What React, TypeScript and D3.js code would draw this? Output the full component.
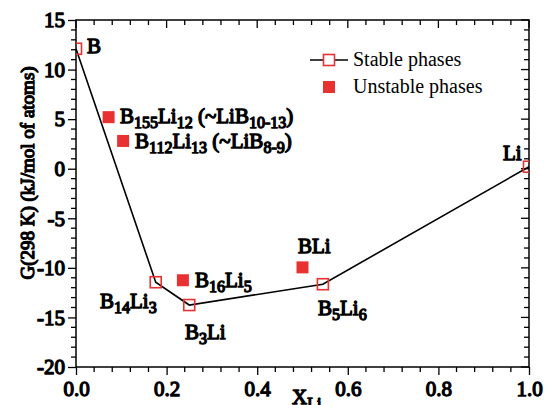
import * as d3 from "d3";
import { useEffect, useRef } from "react";

// stable phases (convex hull), x = X_Li, y = G in kJ/mol of atoms
const stableNames = ["B", "B14Li3", "B3Li", "B5Li6", "Li"];
const stableX = [0, 0.176, 0.25, 0.545, 1.0];
const stableY = [12.1, -11.45, -13.75, -11.65, 0.2];

// unstable phases
const unstableNames = ["B155Li12", "B112Li13", "B16Li5", "BLi"];
const unstableX = [0.072, 0.104, 0.236, 0.5];
const unstableY = [5.2, 2.8, -11.25, -9.95];

const xTicks = [0, 0.2, 0.4, 0.6, 0.8, 1.0];
const yTicks = [15, 10, 5, 0, -5, -10, -15, -20];

// label pieces: [text, isSubscript]
type Piece = [string, boolean];
const labels: { parts: Piece[]; x: number; y: number }[] = [
  { parts: [["B", false]], x: 87, y: 53 },
  {
    parts: [["B", false], ["155", true], ["Li", false], ["12", true], [" (~LiB", false], ["10-13", true], [")", false]],
    x: 120,
    y: 123,
  },
  {
    parts: [["B", false], ["112", true], ["Li", false], ["13", true], ["  (~LiB", false], ["8-9", true], [")", false]],
    x: 135,
    y: 148,
  },
  { parts: [["B", false], ["14", true], ["Li", false], ["3", true]], x: 100, y: 308 },
  { parts: [["B", false], ["3", true], ["Li", false]], x: 185, y: 339 },
  { parts: [["B", false], ["16", true], ["Li", false], ["5", true]], x: 195, y: 287 },
  { parts: [["BLi", false]], x: 298, y: 253 },
  { parts: [["B", false], ["5", true], ["Li", false], ["6", true]], x: 318, y: 315 },
  { parts: [["Li", false]], x: 503, y: 160 },
];

const W = 549;
const H = 405;
const M = { left: 76, right: 20, top: 20, bottom: 38 };
const RED = "#e83232";
const FONT = "'Liberation Serif', 'Times New Roman', serif";

// the bold serif face is not always there, so thicken the regular one
const boldify = (sel: any) =>
  sel
    .attr("font-family", FONT)
    .attr("font-weight", "normal")
    .attr("fill", "#000")
    .attr("stroke", "#000")
    .attr("stroke-width", 1.3)
    .attr("stroke-linejoin", "round")
    .attr("paint-order", "stroke");

const App = () => {
  const svgRef = useRef(null);

  const drawChart = () => {
    d3.select(svgRef.current).selectAll("*").remove();
    const svg = d3.select(svgRef.current).attr("width", W).attr("height", H);

    const x = d3.scaleLinear().domain([0, 1]).range([M.left, W - M.right]);
    const y = d3.scaleLinear().domain([-20, 15]).range([H - M.bottom, M.top]);

    svg
      .append("defs")
      .append("clipPath")
      .attr("id", "plotclip")
      .append("rect")
      .attr("x", M.left)
      .attr("y", M.top)
      .attr("width", W - M.left - M.right)
      .attr("height", H - M.top - M.bottom);

    const minorX = d3.range(0, 1.0001, 0.04).filter((v) => Math.abs((v * 5) - Math.round(v * 5)) > 1e-6);
    const minorY = d3.range(-20, 15.0001, 1).filter((v) => v % 5 !== 0);

    // bottom axis (ticks outward)
    const bottom = svg.append("g").attr("transform", `translate(0, ${y(-20)})`);
    bottom
      .call(d3.axisBottom(x).tickValues(xTicks).tickFormat((d: any) => d.toFixed(1)).tickSize(8).tickPadding(6))
      .call((g) => g.select(".domain").remove());
    bottom
      .selectAll("line.minor")
      .data(minorX)
      .enter()
      .append("line")
      .attr("x1", (d) => x(d))
      .attr("x2", (d) => x(d))
      .attr("y1", 0)
      .attr("y2", 5)
      .attr("stroke", "#000")
      .attr("stroke-width", 1.3);

    // left axis (ticks outward), plain hyphen for minus like the original
    const left = svg.append("g").attr("transform", `translate(${x(0)}, 0)`);
    left
      .call(d3.axisLeft(y).tickValues(yTicks).tickFormat((d: any) => String(d)).tickSize(8).tickPadding(3))
      .call((g) => g.select(".domain").remove());
    left
      .selectAll("line.minor")
      .data(minorY)
      .enter()
      .append("line")
      .attr("x1", 0)
      .attr("x2", -5)
      .attr("y1", (d) => y(d))
      .attr("y2", (d) => y(d))
      .attr("stroke", "#000")
      .attr("stroke-width", 1.3);

    // top & right mirror ticks (inward)
    const top = svg.append("g").attr("transform", `translate(0, ${y(15)})`);
    top
      .selectAll("line")
      .data([...xTicks, ...minorX])
      .enter()
      .append("line")
      .attr("x1", (d) => x(d))
      .attr("x2", (d) => x(d))
      .attr("y1", 0)
      .attr("y2", (d) => (xTicks.includes(d) ? 8 : 5))
      .attr("stroke", "#000")
      .attr("stroke-width", 1.3);
    const right = svg.append("g").attr("transform", `translate(${x(1)}, 0)`);
    right
      .selectAll("line")
      .data([...yTicks, ...minorY])
      .enter()
      .append("line")
      .attr("x1", 0)
      .attr("x2", (d) => (yTicks.includes(d) ? -8 : -5))
      .attr("y1", (d) => y(d))
      .attr("y2", (d) => y(d))
      .attr("stroke", "#000")
      .attr("stroke-width", 1.3);

    svg.selectAll(".tick line").attr("stroke-width", 1.3);
    svg
      .selectAll(".tick text")
      .attr("font-size", 21)
      .call(boldify);

    // frame
    svg
      .append("rect")
      .attr("x", x(0))
      .attr("y", y(15))
      .attr("width", x(1) - x(0))
      .attr("height", y(-20) - y(15))
      .attr("fill", "none")
      .attr("stroke", "#000")
      .attr("stroke-width", 1.5);

    const plot = svg.append("g").attr("clip-path", "url(#plotclip)");

    const stable = stableX.map((v, i) => ({ x: v, y: stableY[i], name: stableNames[i] }));
    const unstable = unstableX.map((v, i) => ({ x: v, y: unstableY[i], name: unstableNames[i] }));

    const line = d3
      .line<{ x: number; y: number }>()
      .x((d) => x(d.x))
      .y((d) => y(d.y));
    plot
      .append("path")
      .datum(stable)
      .attr("d", line)
      .attr("fill", "none")
      .attr("stroke", "#000")
      .attr("stroke-width", 1.6);

    const s = 11;
    plot
      .selectAll(".stable")
      .data(stable)
      .enter()
      .append("rect")
      .attr("x", (d) => x(d.x) - s / 2)
      .attr("y", (d) => y(d.y) - s / 2)
      .attr("width", s)
      .attr("height", s)
      .attr("fill", "none")
      .attr("stroke", RED)
      .attr("stroke-width", 1.6);
    plot
      .selectAll(".unstable")
      .data(unstable)
      .enter()
      .append("rect")
      .attr("x", (d) => x(d.x) - 6)
      .attr("y", (d) => y(d.y) - 6)
      .attr("width", 12)
      .attr("height", 12)
      .attr("fill", RED);

    // phase labels
    labels.forEach((lab) => {
      const t = svg
        .append("text")
        .attr("x", lab.x)
        .attr("y", lab.y)
        .attr("font-size", 21)
        .call(boldify);
      let prevSub = false;
      lab.parts.forEach(([txt, sub]) => {
        const dy = sub === prevSub ? 0 : sub ? 5 : -5;
        t.append("tspan")
          .attr("dy", dy)
          .attr("font-size", sub ? 16 : 21)
          .text(txt);
        prevSub = sub;
      });
    });

    // legend
    const lg = svg.append("g").attr("font-family", FONT).attr("font-size", 20);
    lg.append("line")
      .attr("x1", 310)
      .attr("x2", 348)
      .attr("y1", 60)
      .attr("y2", 60)
      .attr("stroke", "#000")
      .attr("stroke-width", 1.6);
    lg.append("rect")
      .attr("x", 329 - 5.5)
      .attr("y", 60 - 5.5)
      .attr("width", 11)
      .attr("height", 11)
      .attr("fill", "#fff")
      .attr("stroke", RED)
      .attr("stroke-width", 1.6);
    lg.append("text").attr("x", 353).attr("y", 66).text("Stable phases");
    lg.append("rect").attr("x", 323).attr("y", 81).attr("width", 12).attr("height", 12).attr("fill", RED);
    lg.append("text").attr("x", 353).attr("y", 93).text("Unstable phases");

    // axis titles
    svg
      .append("text")
      .attr("transform", `translate(34, 173) rotate(-90)`)
      .attr("text-anchor", "middle")
      .attr("font-size", 19)
      .call(boldify)
      .text("G(298 K) (kJ/mol of atoms)");

    const xt = svg.append("text").attr("x", 292).attr("y", 404).attr("font-size", 21).call(boldify);
    xt.append("tspan").text("X");
    xt.append("tspan").attr("dy", 5).attr("font-size", 16).text("Li");
  };

  useEffect(() => {
    drawChart();
  }, []);

  return <svg ref={svgRef} style={{ position: "absolute", left: 0, top: 0 }}></svg>;
};

export default App;
